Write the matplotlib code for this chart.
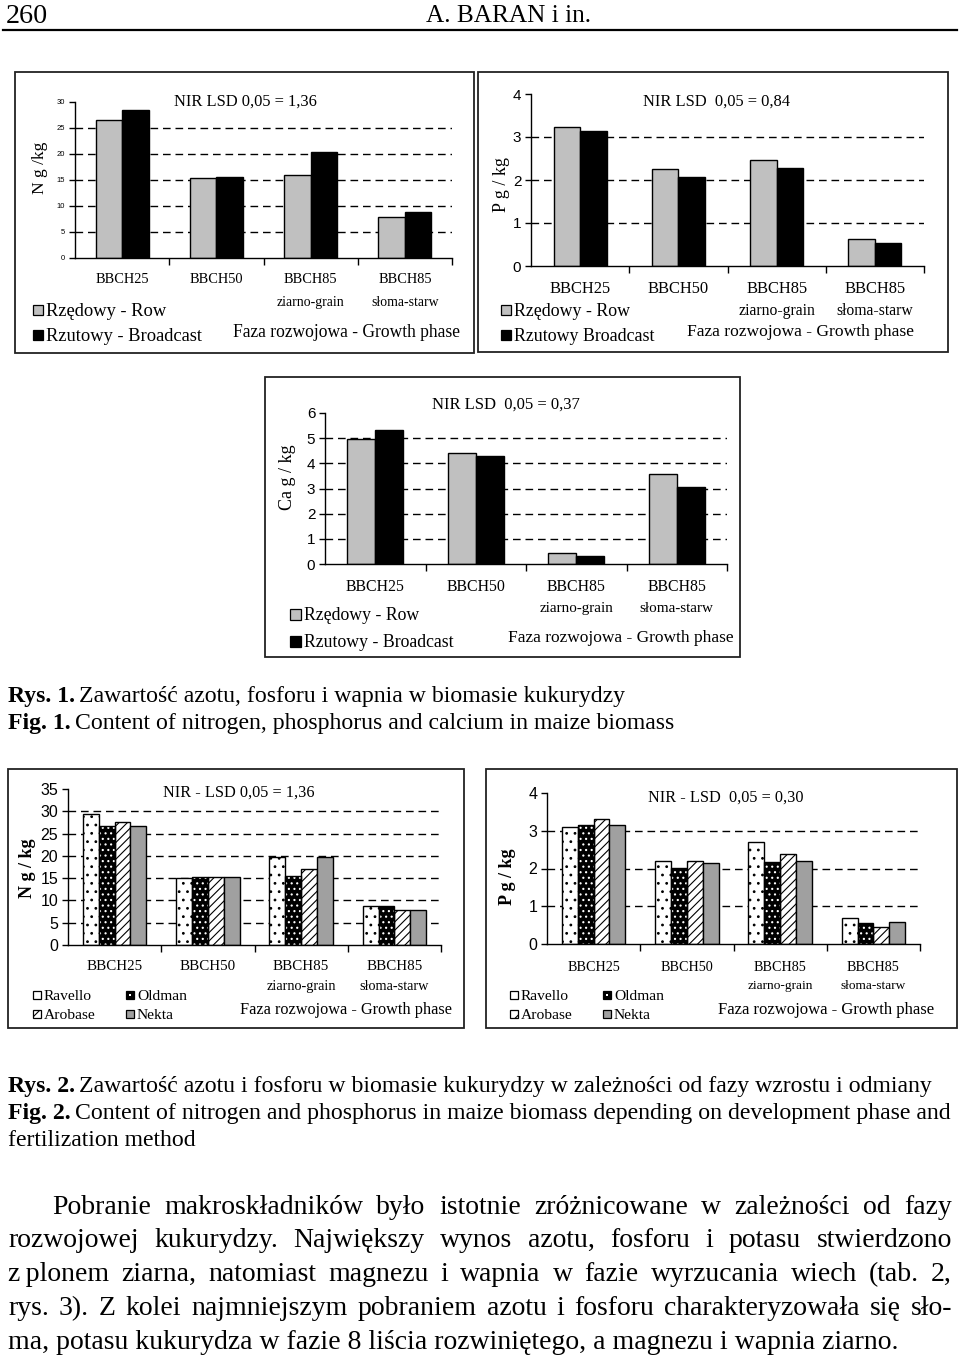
import numpy as np
import matplotlib
matplotlib.use("Agg")
import matplotlib.pyplot as plt
from matplotlib.patches import Rectangle
from matplotlib.transforms import Affine2D, blended_transform_factory

W, H = 960, 1355

# fazy rozwojowe (os X)
phase_top = ["BBCH25", "BBCH50", "BBCH85", "BBCH85"]
phase_sub = ["", "", "ziarno-grain", "słoma-starw"]

# Rys. 1 - sposob nawozenia
n_row = [26.5, 15.3, 15.9, 7.9]
n_broadcast = [28.5, 15.5, 20.3, 8.8]
p_row = [3.24, 2.25, 2.46, 0.62]
p_broadcast = [3.14, 2.06, 2.27, 0.53]
ca_row = [4.97, 4.40, 0.45, 3.56]
ca_broadcast = [5.34, 4.30, 0.31, 3.05]

# Rys. 2 - odmiany
cultivars = ["Ravello", "Oldman", "Arobase", "Nekta"]
n_ravello = [29.3, 15.1, 19.8, 8.8]
n_oldman = [26.8, 15.3, 15.5, 8.8]
n_arobase = [27.7, 15.3, 17.1, 7.9]
n_nekta = [26.8, 15.3, 19.8, 7.9]
p_ravello = [3.11, 2.19, 2.70, 0.70]
p_oldman = [3.14, 2.01, 2.18, 0.56]
p_arobase = [3.31, 2.19, 2.38, 0.45]
p_nekta = [3.14, 2.14, 2.21, 0.59]

plt.rcParams['hatch.linewidth'] = 0.8
SERIF = 'Liberation Serif'
SANS = 'Liberation Sans'
BIG = 1.12  # oryginalne czcionki sa wezsze i wyzsze

fig = plt.figure(figsize=(9.6, 13.55), dpi=100)
pix = Affine2D().scale(1 / W, -1 / H).translate(0, 1) + fig.transFigure
renderer = fig.canvas.get_renderer()


def fit_size(s, width, base=10, **kw):
    t = fig.text(0, 0, s, fontsize=base, **kw)
    w = t.get_window_extent(renderer).width
    t.remove()
    return base * width / w


def base_y(y, size):
    # srodek wizualny -> linia bazowa
    return y + 0.33 * size * 100 / 72


def put(s, x0, x1, y, ha='left', scale=1.0, **kw):
    size = fit_size(s, x1 - x0, **kw) * scale
    x = {'left': x0, 'center': (x0 + x1) / 2, 'right': x1}[ha]
    return fig.text(x, base_y(y, size), s, transform=pix, fontsize=size, ha=ha,
                    va='baseline', **kw)


def box(x0, y0, x1, y1):
    fig.add_artist(Rectangle((x0, y0), x1 - x0, y1 - y0, transform=pix,
                             fill=False, edgecolor='#222222', linewidth=1.3))


def draw_bars(ax, x, vals, w, style):
    if style == 'row':
        ax.bar(x, vals, w, color='#c0c0c0', edgecolor='black', linewidth=1, zorder=2)
    elif style == 'broad':
        ax.bar(x, vals, w, color='black', edgecolor='black', linewidth=1, zorder=2)
    elif style == 'Ravello':
        ax.bar(x, vals, w, color='white', edgecolor='black', hatch='..', linewidth=1, zorder=2)
    elif style == 'Oldman':
        ax.bar(x, vals, w, color='black', edgecolor='white', hatch='...', linewidth=0, zorder=2)
        ax.bar(x, vals, w, color='none', edgecolor='black', linewidth=1, zorder=3)
    elif style == 'Arobase':
        ax.bar(x, vals, w, color='white', edgecolor='black', hatch='////', linewidth=1, zorder=2)
    elif style == 'Nekta':
        ax.bar(x, vals, w, color='#a0a0a0', edgecolor='black', linewidth=1, zorder=2)


def legend_square(x, y, s, style):
    kw = dict(transform=pix, linewidth=0.9, edgecolor='black')
    if style == 'row':
        kw.update(facecolor='#c0c0c0')
    elif style == 'broad':
        kw.update(facecolor='black')
    elif style == 'Ravello':
        kw.update(facecolor='white')
    elif style == 'Oldman':
        kw.update(facecolor='black')
    elif style == 'Arobase':
        kw.update(facecolor='white', hatch='//')
    elif style == 'Nekta':
        kw.update(facecolor='#a0a0a0')
    fig.add_artist(Rectangle((x, y - s / 2), s, s, **kw))
    if style == 'Oldman':
        fig.add_artist(Rectangle((x + s / 2 - 1, y - 1), 2, 2, transform=pix,
                                 facecolor='white', linewidth=0))


def panel(frame, axr, series, styles, width, ymax, ystep, ytick_size,
          title, title_pos, ylabel, ylabel_pos, ybold, xl, legend, faza):
    box(*frame)
    l, t, r, b = axr
    ax = fig.add_axes([l / W, 1 - b / H, (r - l) / W, (b - t) / H])
    ax.patch.set_alpha(0)
    n = len(series)
    x = np.arange(4)
    for i, (vals, st) in enumerate(zip(series, styles)):
        draw_bars(ax, x + (i - (n - 1) / 2) * width, vals, width, st)
    yt = np.arange(0, ymax + ystep / 2, ystep)
    for v in yt[1:-1]:
        ax.axhline(v, ls=(0, (5.5, 3.5)), color='black', lw=1, zorder=0.5)
    ax.set_xlim(-0.5, 3.5)
    ax.set_ylim(0, ymax)
    ax.set_yticks(yt)
    ax.set_yticklabels([f"{int(v)}" for v in yt], fontsize=ytick_size, family=SANS)
    ax.set_xticks([])
    ax.set_xticks([0.5, 1.5, 2.5, 3.5], minor=True)
    ax.tick_params(axis='x', which='minor', length=5, width=1, direction='out')
    ax.tick_params(axis='y', length=4, width=1, direction='out', pad=3)
    for s in ['top', 'right']:
        ax.spines[s].set_visible(False)
    for s in ['left', 'bottom']:
        ax.spines[s].set_linewidth(1)

    # tytul NIR
    put(title, title_pos[0], title_pos[1], title_pos[2], family=SERIF, scale=1.05)
    # opis osi Y
    fig.text(ylabel_pos[0], ylabel_pos[1], ylabel, transform=pix, rotation=90,
             ha='center', va='center', fontsize=ylabel_pos[2], family=SERIF,
             weight='bold' if ybold else 'normal')
    # etykiety faz
    xs = fit_size("BBCH25", xl[2], family=SERIF) * BIG
    tr = blended_transform_factory(ax.transData, pix)
    for i in range(4):
        ax.text(i, base_y(xl[0], xs), phase_top[i], transform=tr, ha='center',
                va='baseline', fontsize=xs, family=SERIF)
        if phase_sub[i]:
            ax.text(i, base_y(xl[1], xs * 0.95), phase_sub[i], transform=tr,
                    ha='center', va='baseline', fontsize=xs * 0.95, family=SERIF)
    # legenda
    sq = legend['sq']
    lsz = fit_size(legend['ref'], legend['refw'], family=SERIF) * 1.05
    for (lx, ly, lab, st) in legend['items']:
        legend_square(lx, ly, sq, st)
        fig.text(lx + sq + 3, base_y(ly, lsz), lab, transform=pix, fontsize=lsz,
                 family=SERIF, ha='left', va='baseline')
    put("Faza rozwojowa - Growth phase", faza[0], faza[1], faza[2], family=SERIF,
        scale=1.03)
    return ax


# --- naglowek strony ---
put("260", 6, 44, 14, family=SERIF, scale=1.1)
put("A. BARAN i in.", 426, 576, 14, family=SERIF, scale=1.1)
fig.add_artist(plt.Line2D([3, 957], [30, 30], transform=pix, color='black', lw=1.6))

# --- Rys. 1 ---
panel((15, 72, 474, 353), (75, 102, 452, 258), [n_row, n_broadcast], ['row', 'broad'],
      0.28, 30, 5, 5.5, "NIR LSD 0,05 = 1,36", (174, 310, 100),
      "N g /kg", (40, 168, 12.5), False, (278, 301, 48),
      dict(sq=10, ref="Rzędowy - Row", refw=115,
           items=[(33, 310, "Rzędowy - Row", 'row'), (33, 335, "Rzutowy - Broadcast", 'broad')]),
      (233, 455, 331))

panel((478, 72, 948, 352), (531, 94, 924, 266), [p_row, p_broadcast], ['row', 'broad'],
      0.27, 4, 1, 11, "NIR LSD  0,05 = 0,84", (643, 783, 100),
      "P g / kg", (501, 184, 13), False, (288, 310, 55),
      dict(sq=10, ref="Rzędowy - Row", refw=111,
           items=[(501, 310, "Rzędowy - Row", 'row'), (501, 335, "Rzutowy Broadcast", 'broad')]),
      (687, 908, 330))

panel((265, 377, 740, 657), (325, 413, 727, 564), [ca_row, ca_broadcast], ['row', 'broad'],
      0.28, 6, 1, 11, "NIR LSD  0,05 = 0,37", (432, 573, 403),
      "Ca g / kg", (287, 477, 13), False, (586, 607, 53),
      dict(sq=11, ref="Rzędowy - Row", refw=110,
           items=[(290, 614, "Rzędowy - Row", 'row'), (290, 641, "Rzutowy - Broadcast", 'broad')]),
      (508, 728, 636))

# podpisy rysunkow
cap_size = fit_size("Fig. 2. Content of nitrogen and phosphorus in maize biomass depending on development phase and",
                    944, family=SERIF)


def caption(bold, rest, y):
    yb = base_y(y, cap_size)
    t = fig.text(8, yb, bold, transform=pix, fontsize=cap_size, family=SERIF,
                 weight='bold', ha='left', va='baseline')
    w = t.get_window_extent(renderer).width
    fig.text(8 + w + cap_size * 0.25, yb, rest, transform=pix, fontsize=cap_size,
             family=SERIF, ha='left', va='baseline')


caption("Rys. 1.", "Zawartość azotu, fosforu i wapnia w biomasie kukurydzy", 694)
caption("Fig. 1.", "Content of nitrogen, phosphorus and calcium in maize biomass", 721)

# --- Rys. 2 ---
sq2 = 8
panel((8, 769, 464, 1028), (68, 789, 441, 945),
      [n_ravello, n_oldman, n_arobase, n_nekta], cultivars,
      0.17, 35, 5, 11.5, "NIR - LSD 0,05 = 1,36", (163, 306, 791),
      "N g / kg", (28, 868, 13), True, (965, 985, 50),
      dict(sq=sq2, ref="Ravello", refw=46,
           items=[(33, 995, "Ravello", 'Ravello'), (126, 995, "Oldman", 'Oldman'),
                  (33, 1014, "Arobase", 'Arobase'), (126, 1014, "Nekta", 'Nekta')]),
      (240, 445, 1009))

panel((486, 769, 957, 1028), (547, 793, 920, 944),
      [p_ravello, p_oldman, p_arobase, p_nekta], cultivars,
      0.17, 4, 1, 11.5, "NIR - LSD  0,05 = 0,30", (648, 795, 796),
      "P g / kg", (508, 877, 13), True, (966, 985, 47),
      dict(sq=sq2, ref="Ravello", refw=46,
           items=[(510, 995, "Ravello", 'Ravello'), (603, 995, "Oldman", 'Oldman'),
                  (510, 1014, "Arobase", 'Arobase'), (603, 1014, "Nekta", 'Nekta')]),
      (718, 928, 1009))

caption("Rys. 2.", "Zawartość azotu i fosforu w biomasie kukurydzy w zależności od fazy wzrostu i odmiany", 1084)
caption("Fig. 2.", "Content of nitrogen and phosphorus in maize biomass depending on development phase and", 1111)
fig.text(8, base_y(1138, cap_size), "fertilization method", transform=pix, fontsize=cap_size,
         family=SERIF, ha='left', va='baseline')

# --- tekst akapitu (wyjustowany) ---
par_lines = [
    (52, "Pobranie makroskładników było istotnie zróżnicowane w zależności od fazy", True),
    (8, "rozwojowej kukurydzy. Największy wynos azotu, fosforu i potasu stwierdzono", True),
    (8, "z\u2009plonem ziarna, natomiast magnezu i wapnia w fazie wyrzucania wiech (tab. 2,", True),
    (8, "rys. 3). Z kolei najmniejszym pobraniem azotu i fosforu charakteryzowała się sło-", True),
    (8, "ma, potasu kukurydza w fazie 8 liścia rozwiniętego, a magnezu i wapnia ziarno.", False),
]
par_y = [1205, 1238, 1272, 1306, 1340]
par_size = fit_size(par_lines[-1][1], 889, family=SERIF)

for (x0, line, just), y in zip(par_lines, par_y):
    yb = base_y(y, par_size)
    if not just:
        fig.text(x0, yb, line, transform=pix, fontsize=par_size, family=SERIF,
                 ha='left', va='baseline')
        continue
    words = line.split(' ')
    objs = [fig.text(0, yb, wd, transform=pix, fontsize=par_size, family=SERIF,
                     ha='left', va='baseline') for wd in words]
    widths = [o.get_window_extent(renderer).width for o in objs]
    gap = (952 - x0 - sum(widths)) / (len(words) - 1)
    xx = x0
    for o, wd in zip(objs, widths):
        o.set_x(xx)
        xx += wd + gap

fig.savefig("out.png", dpi=100)
